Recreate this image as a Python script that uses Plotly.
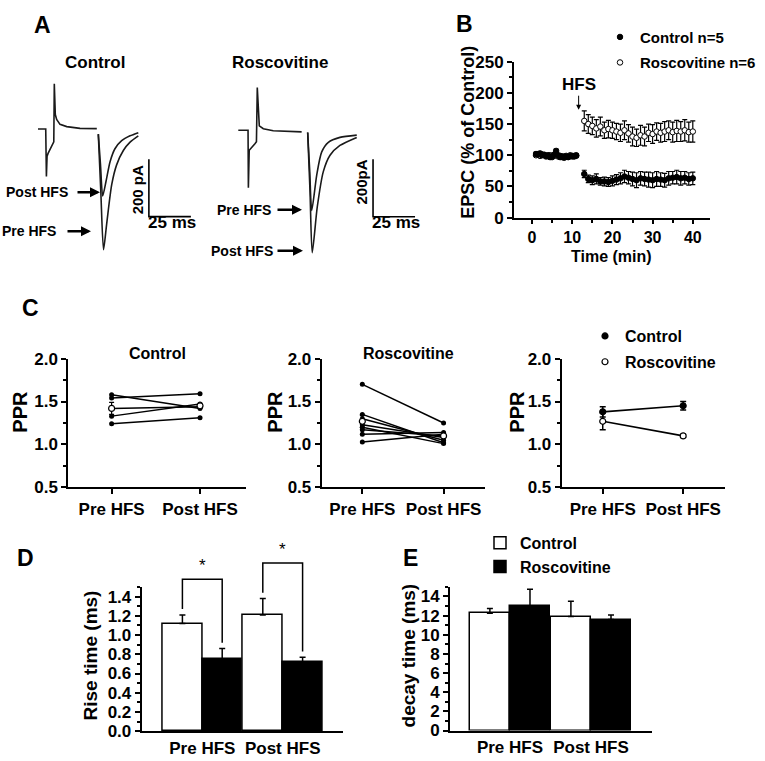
import plotly.graph_objects as go

W, H = 765, 761
FONT = "Liberation Sans, Arial, Helvetica, sans-serif"

# ---------------- Panel A: example EPSC traces (time ms, current pA) ----------------
ctrl_stim_t = [0, 4.6, 5.0, 5.4, 6.0, 9.1, 9.4, 9.7, 10.3, 11.1, 13.1, 17.1, 25.0, 35.0]
ctrl_stim_v = [0, 0, -165, -95, -85, -52, -45, 157, 50, 33, 16, 8, 2, 1]
ctrl_pre_t = [35.9, 37.4, 39.0, 40.9, 43.9, 46.8, 50.8, 54.8, 59.7]
ctrl_pre_v = [-18, -219, -420, -329, -193, -125, -75, -46, -24]
ctrl_post_t = [35.9, 37.2, 38.5, 40.5, 42.9, 45.8, 49.8, 54.8, 59.7]
ctrl_post_v = [-18, -125, -233, -182, -114, -69, -41, -24, -13]

rosc_stim_t = [0, 5.8, 6.0, 6.5, 9.9, 10.8, 11.3, 12.5, 14.9, 20.8, 37.7]
rosc_stim_v = [0, 0, -200, -70, -47, -40, 148, 15, 5, -2, -6]
rosc_pre_t = [41.3, 42.5, 43.7, 46.7, 49.6, 53.6, 60.5, 70.5]
rosc_pre_v = [-8, -140, -279, -155, -76, -42, -25, -17]
rosc_post_t = [41.3, 42.7, 44.0, 47.0, 50.6, 54.6, 60.5, 70.5]
rosc_post_v = [-8, -215, -426, -267, -144, -87, -53, -25]

scale_ms = 25
scale_pA = 200

# ---------------- Panel B: EPSC time course (% of control) ----------------
b_pre_t = [1, 1.5, 2, 2.5, 3, 3.5, 4, 4.5, 5, 5.5, 6, 6.5, 7, 7.5, 8, 8.5, 9, 9.5, 10, 10.5, 11]
b_ctrl_pre = [102, 101, 103, 100, 101, 99, 100, 97, 98, 101, 107, 100, 97, 98, 96, 98, 97, 99, 99, 98, 100]
b_ctrl_pre_err = [3, 2, 3, 2, 3, 2, 2, 3, 2, 3, 3, 2, 2, 3, 2, 2, 3, 2, 2, 3, 2]
b_rosc_pre = [100, 102, 99, 101, 100, 98, 99, 100, 97, 99, 102, 98, 99, 97, 98, 99, 98, 100, 98, 99, 99]
b_rosc_pre_err = [2, 3, 2, 2, 3, 2, 3, 2, 2, 3, 2, 2, 3, 2, 2, 3, 2, 2, 3, 2, 2]
b_post_t = [13, 14, 15, 16, 17, 18, 19, 20, 21, 22, 23, 24, 25, 26, 27, 28, 29, 30,
            31, 32, 33, 34, 35, 36, 37, 38, 39, 40]
b_ctrl_post = [70, 62, 60, 62, 58, 58, 57, 59, 61, 63, 66, 64, 62, 60, 63, 62, 61, 60,
               62, 61, 60, 63, 64, 65, 63, 64, 62, 63]
b_ctrl_post_err = [6, 6, 7, 8, 6, 7, 7, 8, 8, 9, 10, 10, 11, 12, 11, 11, 12, 12,
                   12, 11, 11, 11, 10, 11, 11, 10, 10, 10]
b_rosc_post = [155, 150, 147, 143, 146, 140, 142, 140, 138, 136, 140, 135, 130, 128, 132, 130, 136, 134,
               138, 136, 138, 140, 137, 139, 138, 140, 137, 138]
b_rosc_post_err = [16, 15, 14, 14, 15, 13, 14, 13, 13, 14, 15, 14, 15, 14, 16, 15, 14, 15,
                   14, 15, 16, 15, 16, 17, 16, 17, 16, 17]

# ---------------- Panel C: paired-pulse ratio ----------------
c_cats = ["Pre HFS", "Post HFS"]
c_ctrl_pre = [1.58, 1.54, 1.42, 1.33, 1.24]
c_ctrl_post = [1.42, 1.59, 1.44, 1.47, 1.31]
c_ctrl_mean = [1.42, 1.45]
c_ctrl_mean_err = [0.07, 0.03]
c_rosc_pre = [1.70, 1.35, 1.30, 1.23, 1.20, 1.17, 1.12, 1.03]
c_rosc_post = [1.25, 1.02, 1.05, 1.08, 1.01, 1.10, 1.14, 1.12]
c_rosc_mean = [1.27, 1.10]
c_rosc_mean_err = [0.07, 0.03]
c3_ctrl = [1.38, 1.45]
c3_ctrl_err = [0.06, 0.05]
c3_rosc = [1.27, 1.10]
c3_rosc_err = [0.10, 0.02]

# ---------------- Panels D, E: kinetics ----------------
de_cats = ["Pre HFS", "Post HFS"]
d_ctrl = [1.12, 1.21]
d_ctrl_err = [0.09, 0.17]
d_rosc = [0.75, 0.72]
d_rosc_err = [0.11, 0.05]
e_ctrl = [12.25, 11.9]
e_ctrl_err = [0.5, 1.6]
e_rosc = [13.0, 11.6]
e_rosc_err = [1.75, 0.47]

# ======================================================================
def px(x):
    return x / W


def py(y):
    return 1 - y / H


def xdom(a, b):
    return [a / W, b / W]


def ydom(top, bottom):
    return [1 - bottom / H, 1 - top / H]


BLACK = "black"
TICKFONT = dict(family=FONT, size=17, color=BLACK, weight="bold")


def axstyle(**kw):
    base = dict(showline=True, linecolor=BLACK, linewidth=2, ticks="outside", ticklen=5,
                tickwidth=2, tickcolor=BLACK, showgrid=False, zeroline=False,
                tickfont=TICKFONT, fixedrange=True)
    base.update(kw)
    return base


def minor(dt, t0=0):
    return dict(ticks="outside", ticklen=3, tickwidth=1.5, tickcolor=BLACK, dtick=dt,
                tick0=t0, showgrid=False)


fig = go.Figure()

# ---- Panel A traces ----
TR = dict(color="#1a1a1a", width=1.6)
for xa, ya, st, sv, pt, pv, qt, qv in [
    ("x", "y", ctrl_stim_t, ctrl_stim_v, ctrl_pre_t, ctrl_pre_v, ctrl_post_t, ctrl_post_v),
    ("x2", "y2", rosc_stim_t, rosc_stim_v, rosc_pre_t, rosc_pre_v, rosc_post_t, rosc_post_v),
]:
    fig.add_trace(go.Scatter(x=st, y=sv, mode="lines", line=dict(TR, shape="linear"),
                             xaxis=xa, yaxis=ya, showlegend=False, hoverinfo="skip"))
    for tt, vv in [(pt, pv), (qt, qv)]:
        fig.add_trace(go.Scatter(x=tt, y=vv, mode="lines",
                                 line=dict(TR, shape="spline", smoothing=0.7),
                                 xaxis=xa, yaxis=ya, showlegend=False, hoverinfo="skip"))

# scale bars
for xa, ya, x0, y0 in [("x", "y", 66, -305), ("x2", "y2", 80.2, -301)]:
    fig.add_trace(go.Scatter(x=[x0, x0, x0 + scale_ms], y=[y0 + scale_pA, y0, y0],
                             mode="lines", line=dict(color=BLACK, width=1.6),
                             xaxis=xa, yaxis=ya, showlegend=False, hoverinfo="skip"))

# ---- Panel B ----
ebar = dict(type="data", color=BLACK, thickness=1.2, width=2.5)
fig.add_trace(go.Scatter(
    x=b_pre_t + b_post_t, y=b_rosc_pre + b_rosc_post, mode="markers", name="Roscovitine n=6",
    marker=dict(symbol="circle", size=5.5, color="white", line=dict(color=BLACK, width=1)),
    error_y=dict(ebar, array=b_rosc_pre_err + b_rosc_post_err),
    xaxis="x3", yaxis="y3", legend="legend", legendrank=2, legendgroup="b2", hoverinfo="skip"))
fig.add_trace(go.Scatter(
    x=b_pre_t + b_post_t, y=b_ctrl_pre + b_ctrl_post, mode="markers", name="Control n=5",
    marker=dict(symbol="circle", size=5.5, color=BLACK, line=dict(color=BLACK, width=1)),
    error_y=dict(ebar, array=b_ctrl_pre_err + b_ctrl_post_err),
    xaxis="x3", yaxis="y3", legend="legend", legendrank=1, legendgroup="b1", hoverinfo="skip"))

# ---- Panel C1 / C2 ----
for xa, ya, pre, post, mean, merr in [
    ("x4", "y4", c_ctrl_pre, c_ctrl_post, c_ctrl_mean, c_ctrl_mean_err),
    ("x5", "y5", c_rosc_pre, c_rosc_post, c_rosc_mean, c_rosc_mean_err),
]:
    for a, b in zip(pre, post):
        fig.add_trace(go.Scatter(x=[0, 1], y=[a, b], mode="lines+markers",
                                 line=dict(color=BLACK, width=1.5),
                                 marker=dict(color=BLACK, size=5),
                                 xaxis=xa, yaxis=ya, showlegend=False, hoverinfo="skip"))
    fig.add_trace(go.Scatter(x=[0, 1], y=mean, mode="markers",
                             marker=dict(color="white", size=6, line=dict(color=BLACK, width=1.2)),
                             error_y=dict(type="data", array=merr, color=BLACK, thickness=1.2, width=2.5),
                             xaxis=xa, yaxis=ya, showlegend=False, hoverinfo="skip"))

# ---- Panel C3 ----
for vals, errs, name, fill, rank in [(c3_ctrl, c3_ctrl_err, "Control", BLACK, 1),
                                     (c3_rosc, c3_rosc_err, "Roscovitine", "white", 2)]:
    fig.add_trace(go.Scatter(x=[0, 1], y=vals, mode="lines", line=dict(color=BLACK, width=1.6),
                             xaxis="x6", yaxis="y6", showlegend=False, hoverinfo="skip"))
    fig.add_trace(go.Scatter(x=[0, 1], y=vals, mode="markers", name=name,
                             marker=dict(color=fill, size=6, line=dict(color=BLACK, width=1.2)),
                             error_y=dict(type="data", array=errs, color=BLACK, thickness=1.5, width=3),
                             xaxis="x6", yaxis="y6", legend="legend2", legendrank=rank,
                             legendgroup="c%d" % rank, hoverinfo="skip"))

# ---- Panels D / E bars ----
BW = 0.495
for xa, ya, ctrl, cerr, rosc, rerr, show in [
    ("x7", "y7", d_ctrl, d_ctrl_err, d_rosc, d_rosc_err, False),
    ("x8", "y8", e_ctrl, e_ctrl_err, e_rosc, e_rosc_err, True),
]:
    for vals, errs, fill, off, name, rank in [(ctrl, cerr, "white", -BW, "Control", 1),
                                              (rosc, rerr, BLACK, 0, "Roscovitine", 2)]:
        fig.add_trace(go.Bar(x=[0, 1], y=vals, width=BW, offset=off, name=name,
                             marker=dict(color=fill, line=dict(color=BLACK, width=1.5)),
                             error_y=dict(type="data", symmetric=False, array=errs,
                                          arrayminus=[0, 0], color=BLACK, thickness=1.5, width=3),
                             xaxis=xa, yaxis=ya, showlegend=show, legend="legend3",
                             legendrank=rank, legendgroup="e%d" % rank, hoverinfo="skip"))

# significance brackets in D (drawn on an invisible, taller axis with the same scale)
annotations = []
for i in range(2):
    c_top = d_ctrl[i] + d_ctrl_err[i]
    r_top = d_rosc[i] + d_rosc_err[i]
    top = max(c_top, r_top) + 0.37
    fig.add_trace(go.Scatter(x=[i - BW / 2, i - BW / 2, i + BW / 2, i + BW / 2],
                             y=[c_top + 0.06, top, top, r_top + 0.06], mode="lines",
                             line=dict(color=BLACK, width=1.5),
                             xaxis="x7", yaxis="y9", showlegend=False, hoverinfo="skip"))
    annotations.append(dict(x=i, y=top, xref="x7", yref="y9", text="*", showarrow=False,
                            yanchor="bottom", yshift=2,
                            font=dict(family=FONT, size=17, color=BLACK)))

# ======================================================================
MS_PX, PA_PX = 1.68, 0.295
A_L, A_R, A_T, A_B = 0, 440, 30, 265


def a_x(origin):
    return [(A_L - origin) / MS_PX, (A_R - origin) / MS_PX]


def a_y(base):
    return [-(A_B - base) / PA_PX, (base - A_T) / PA_PX]


hidden = dict(visible=False, fixedrange=True)
LEGFONT = dict(family=FONT, size=16, color=BLACK, weight="bold")
layout = dict(
    width=W, height=H, margin=dict(l=0, r=0, t=0, b=0),
    paper_bgcolor="white", plot_bgcolor="rgba(0,0,0,0)",
    font=dict(family=FONT, color=BLACK),
    xaxis=dict(hidden, domain=xdom(A_L, A_R), range=a_x(38), anchor="y"),
    yaxis=dict(hidden, domain=ydom(A_T, A_B), range=a_y(123), anchor="x"),
    xaxis2=dict(hidden, domain=xdom(A_L, A_R), range=a_x(238.3), anchor="y2"),
    yaxis2=dict(hidden, domain=ydom(A_T, A_B), range=a_y(124.3), anchor="x2"),
    # B
    xaxis3=axstyle(domain=xdom(514, 710), range=[(514 - 532) / 4.02, (710 - 532) / 4.02],
                   tickvals=[0, 10, 20, 30, 40], minor=minor(5), ticklen=4,
                   tickfont=dict(TICKFONT, size=16), anchor="y3"),
    yaxis3=axstyle(domain=ydom(54, 214), range=[0, 250], dtick=50, minor=minor(25), anchor="x3"),
    # C
    xaxis4=axstyle(domain=xdom(68.3, 246), range=[-0.49, 1.52], tickvals=[0, 1], ticktext=c_cats,
                   anchor="y4"),
    yaxis4=axstyle(domain=ydom(358.5, 490.7), range=[0.5, 2.0], tickvals=[0.5, 1, 1.5, 2],
                   tickformat=".1f", minor=minor(0.25, 0.5), anchor="x4"),
    xaxis5=axstyle(domain=xdom(321.7, 485), range=[-0.5, 1.51], tickvals=[0, 1], ticktext=c_cats,
                   anchor="y5"),
    yaxis5=axstyle(domain=ydom(358.5, 490.7), range=[0.5, 2.0], tickvals=[0.5, 1, 1.5, 2],
                   tickformat=".1f", minor=minor(0.25, 0.5), anchor="x5"),
    xaxis6=axstyle(domain=xdom(561.7, 725), range=[-0.51, 1.52], tickvals=[0, 1], ticktext=c_cats,
                   anchor="y6"),
    yaxis6=axstyle(domain=ydom(358.5, 490.7), range=[0.5, 2.0], tickvals=[0.5, 1, 1.5, 2],
                   tickformat=".1f", minor=minor(0.25, 0.5), anchor="x6"),
    # D
    xaxis7=axstyle(domain=xdom(141.7, 343.3), range=[-0.754, 1.754], tickvals=[0, 1],
                   ticktext=de_cats, ticks="", anchor="y7"),
    yaxis7=axstyle(domain=ydom(592.8, 740.7), range=[0, 1.5], tickvals=[0, 0.2, 0.4, 0.6, 0.8, 1.0, 1.2, 1.4],
                   tickformat=".1f", minor=minor(0.1), anchor="x7"),
    yaxis9=dict(hidden, domain=ydom(530, 740.7), range=[0, (740.7 - 530) / 98.6], anchor="x7"),
    # E
    xaxis8=axstyle(domain=xdom(450, 651.7), range=[-0.74, 1.75], tickvals=[0, 1],
                   ticktext=de_cats, ticks="", anchor="y8"),
    yaxis8=axstyle(domain=ydom(592.7, 740), range=[0, 15], dtick=2, minor=minor(1), anchor="x8"),
    bargap=0,
    legend=dict(x=px(600), y=py(12), xanchor="left", yanchor="top", bgcolor="rgba(0,0,0,0)",
                font=dict(LEGFONT, size=15), traceorder="grouped", tracegroupgap=3),
    legend2=dict(x=px(585), y=py(318), xanchor="left", yanchor="top", bgcolor="rgba(0,0,0,0)",
                 font=LEGFONT, traceorder="grouped", tracegroupgap=2),
    legend3=dict(x=px(480), y=py(530), xanchor="left", yanchor="top", bgcolor="rgba(0,0,0,0)",
                 font=LEGFONT, traceorder="grouped", tracegroupgap=0),
)


def txt(x, y, s, size=16, angle=0, xanchor="center", bold=True):
    return dict(x=px(x), y=py(y), xref="paper", yref="paper", text=s, showarrow=False,
                textangle=angle, xanchor=xanchor, yanchor="middle",
                font=dict(family=FONT, size=size, color=BLACK, weight="bold" if bold else "normal"))


def arrow(x_head, y, length, width=2.5, head=2):
    return dict(x=px(x_head), y=py(y), xref="paper", yref="paper", text="", showarrow=True,
                ax=-length, ay=0, arrowhead=head, arrowwidth=width, arrowsize=0.8,
                arrowcolor=BLACK)


annotations += [
    txt(42, 16, "A", 23), txt(465, 15, "B", 23), txt(30, 307, "C", 23),
    txt(25, 563, "D", 23), txt(410, 563, "E", 23),
    txt(95, 55, "Control", 17), txt(280, 55, "Roscovitine", 17),
    txt(70, 188, "Post HFS", 14, xanchor="right"), arrow(100, 188, 24),
    txt(58, 228, "Pre HFS", 14, xanchor="right"), arrow(91, 228, 25),
    txt(273, 206, "Pre HFS", 14, xanchor="right"), arrow(302, 206, 26),
    txt(275, 248, "Post HFS", 14, xanchor="right"), arrow(303, 248, 27),
    txt(137, 186, "200 pA", 15, angle=-90), txt(362, 178, "200pA", 15, angle=-90),
    txt(172, 219, "25 ms", 17), txt(396, 219, "25 ms", 17),
    txt(468, 127, "EPSC (% of Control)", 18, angle=-90), txt(611, 254, "Time (min)", 16),
    dict(x=11.6, y=173, xref="x3", yref="y3", text="HFS", showarrow=True, ax=0, ay=-25,
         arrowhead=2, arrowwidth=1, arrowsize=1, arrowcolor=BLACK,
         font=dict(family=FONT, size=17, color=BLACK, weight="bold")),
    txt(20, 413, "PPR", 20, angle=-90), txt(275, 413, "PPR", 20, angle=-90),
    txt(517, 413, "PPR", 20, angle=-90),
    txt(157, 353, "Control", 16), txt(408, 353, "Roscovitine", 16),
    txt(90, 663, "Rise time (ms)", 19, angle=-90), txt(408, 663, "decay time (ms)", 19, angle=-90),
]
layout["annotations"] = annotations
fig.update_layout(**layout)
fig.write_html("out.html", config={"displayModeBar": False},
               post_script="document.body.style.margin='0';")
